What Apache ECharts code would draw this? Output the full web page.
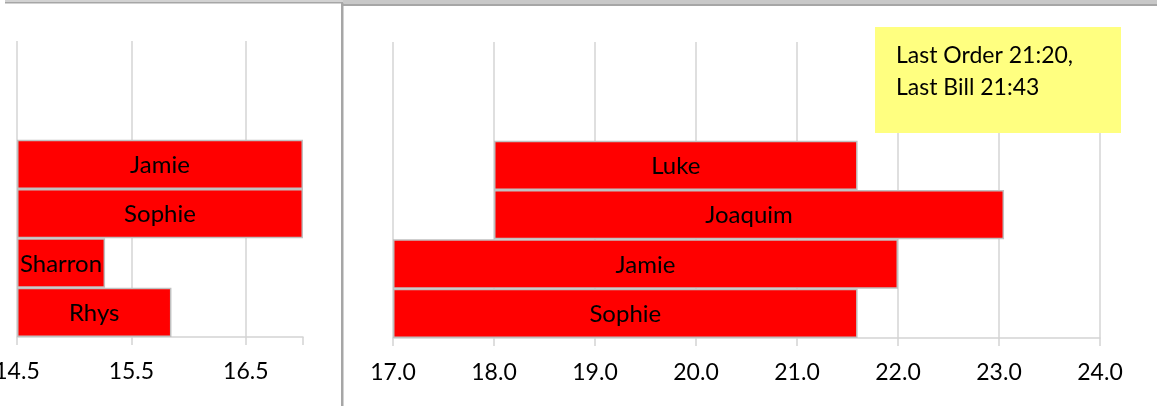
<!DOCTYPE html>
<html><head><meta charset="utf-8">
<script src="https://cdn.jsdelivr.net/npm/echarts@6/dist/echarts.min.js"></script>
<style>html,body{margin:0;padding:0;background:#fff;overflow:hidden;width:1157px;height:406px;position:relative}
#c{position:absolute;left:-20px;top:0;width:1177px;height:406px}</style>
</head><body><div id="c"></div>
<script>
// ---- data ----
const leftNames  = ['Jamie', 'Sophie', 'Sharron', 'Rhys'];      // top to bottom
const leftStart  = [14.5, 14.5, 14.5, 14.5];
const leftEnd    = [17.0, 17.0, 15.27, 15.85];
const rightNames = ['Luke', 'Joaquim', 'Jamie', 'Sophie'];      // top to bottom
const rightStart = [18.0, 18.0, 17.0, 17.0];
const rightEnd   = [21.6, 23.05, 22.0, 21.6];
const leftTicks  = [14.5, 15.5, 16.5];
const rightTicks = [17.0, 18.0, 19.0, 20.0, 21.0, 22.0, 23.0, 24.0];
const noteLines  = ['Last Order 21:20,', 'Last Bill 21:43'];
const emptySlots = ['\u200b', '\u200b\u200b'];

// ---- chart ----
const OX = 20; // canvas starts 20px left of the window so the first tick label is cut by the window edge
const FONT = 'Lato';
const GRID_COLOR = '#d4d4d4';
const chart = echarts.init(document.getElementById('c'), null, {renderer: 'canvas'});

function xAxisFor(gridIndex, ticks) {
  const step = ticks[1] - ticks[0];
  return {
    type: 'value', gridIndex,
    min: ticks[0], max: gridIndex === 0 ? 17.0 : ticks[ticks.length - 1], interval: step,
    axisLine: {show: true, lineStyle: {color: GRID_COLOR, width: 1.5}},
    axisTick: {show: true, length: 8, lineStyle: {color: GRID_COLOR, width: 1.5}},
    splitLine: {show: true, showMaxLine: gridIndex !== 0, lineStyle: {color: GRID_COLOR, width: 1.5}},
    axisLabel: {
      margin: 23, color: '#000', fontFamily: FONT, fontSize: 23,
      showMinLabel: true, showMaxLabel: true, hideOverlap: false,
      formatter: v => ticks.some(t => Math.abs(t - v) < 1e-6) ? v.toFixed(1) : ''
    }
  };
}
function yAxisFor(gridIndex, names) {
  return {
    type: 'category', gridIndex, inverse: true,
    data: emptySlots.concat(names),
    axisLine: {show: false}, axisTick: {show: false}, axisLabel: {show: false}, splitLine: {show: false}
  };
}
function pad(arr) { return emptySlots.map(() => '-').concat(arr); }
function seriesFor(idx, starts, ends) {
  return [
    {type: 'bar', xAxisIndex: idx, yAxisIndex: idx, stack: 's' + idx, silent: true,
     barCategoryGap: '0%', itemStyle: {color: 'rgba(0,0,0,0)'}, data: pad(starts)},
    {type: 'bar', xAxisIndex: idx, yAxisIndex: idx, stack: 's' + idx,
     barCategoryGap: '0%',
     itemStyle: {color: '#ff0000', borderColor: '#c0c0c0', borderWidth: 1.5},
     label: {show: true, position: 'inside', formatter: '{b}', color: '#000', fontFamily: FONT, fontSize: 24, offset: [0, 1]},
     data: pad(ends.map((e, i) => +(e - starts[i]).toFixed(4)))}
  ];
}

chart.setOption({
  animation: false,
  backgroundColor: '#fff',
  grid: [
    {left: 17 + OX, top: 41, width: 286, height: 296, containLabel: false, outerBoundsMode: 'none'},
    {left: 393 + OX, top: 42, width: 707, height: 296, containLabel: false, outerBoundsMode: 'none'}
  ],
  xAxis: [xAxisFor(0, leftTicks), xAxisFor(1, rightTicks)],
  yAxis: [yAxisFor(0, leftNames), yAxisFor(1, rightNames)],
  series: seriesFor(0, leftStart, leftEnd).concat(seriesFor(1, rightStart, rightEnd)),
  graphic: [{
    type: 'group', x: OX, y: 0, children: [
      // frames of the two chart boxes
      {type: 'rect', shape: {x: 5, y: 0, width: 338, height: 2}, style: {fill: '#d2d2d2'}, silent: true},
      {type: 'rect', shape: {x: 5, y: 2, width: 338, height: 1.5}, style: {fill: '#a6a6a6'}, silent: true},
      {type: 'rect', shape: {x: 343, y: 0, width: 814, height: 4}, style: {fill: '#c8c8c8'}, silent: true},
      {type: 'rect', shape: {x: 343, y: 4, width: 814, height: 2}, style: {fill: '#a6a6a6'}, silent: true},
      {type: 'rect', shape: {x: 341, y: 3, width: 2.5, height: 403}, style: {fill: '#a6a6a6'}, silent: true},
      // note box
      {type: 'rect', shape: {x: 875, y: 27, width: 246, height: 106}, style: {fill: '#ffff80'}, z: 10},
      {type: 'text', x: 896, y: 40, z: 11,
       style: {text: noteLines.join('\n'), fill: '#000', font: '23px ' + FONT, lineHeight: 31.5, verticalAlign: 'top'}}
    ]
  }]
});
</script></body></html>
